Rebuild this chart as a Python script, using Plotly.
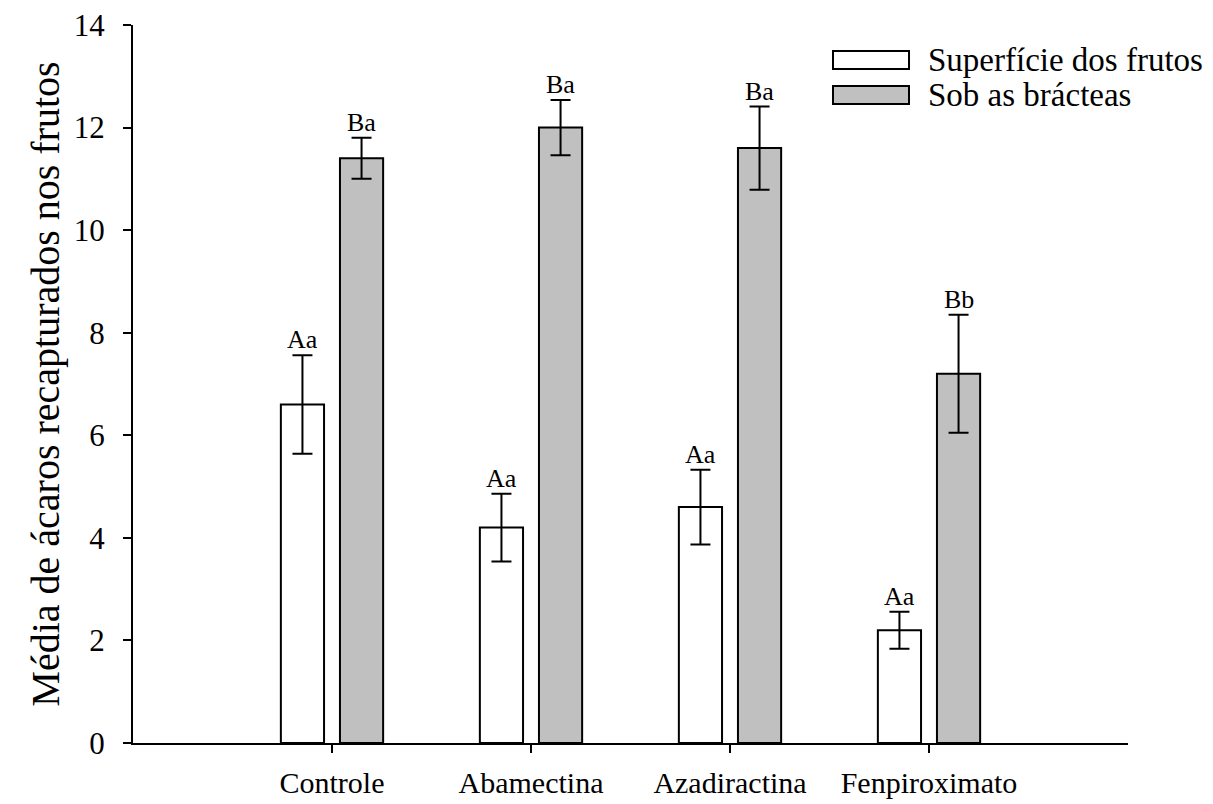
import plotly.graph_objects as go

categories = ["Controle", "Abamectina", "Azadiractina", "Fenpiroximato"]
superficie = [6.6, 4.2, 4.6, 2.2]
superficie_err = [0.96, 0.66, 0.73, 0.36]
bracteas = [11.4, 12.0, 11.6, 7.2]
bracteas_err = [0.40, 0.54, 0.81, 1.15]
letters_sup = ["Aa", "Aa", "Aa", "Aa"]
letters_bra = ["Ba", "Ba", "Ba", "Bb"]
series_names = ["Superfície dos frutos", "Sob as brácteas"]
y_ticks = [0, 2, 4, 6, 8, 10, 12, 14]

FONT = "Times New Roman, Liberation Serif, serif"
BAR_W = 0.217
GAP = 0.04
xpos = list(range(1, len(categories) + 1))

fig = go.Figure()
fig.add_trace(go.Bar(
    x=xpos, y=superficie, width=BAR_W, offset=-(BAR_W + GAP),
    marker=dict(color="white", line=dict(color="black", width=2)),
    error_y=dict(type="data", array=superficie_err, color="black", thickness=2, width=10),
    name=series_names[0], showlegend=False,
))
fig.add_trace(go.Bar(
    x=xpos, y=bracteas, width=BAR_W, offset=GAP,
    marker=dict(color="#c0c0c0", line=dict(color="black", width=2)),
    error_y=dict(type="data", array=bracteas_err, color="black", thickness=2, width=10),
    name=series_names[1], showlegend=False,
))

c_sup = -(BAR_W / 2 + GAP)
c_bra = GAP + BAR_W / 2
for i, x in enumerate(xpos):
    fig.add_annotation(x=x + c_sup, y=superficie[i] + superficie_err[i], text=letters_sup[i],
                       showarrow=False, yanchor="bottom", xanchor="center", yshift=-1,
                       font=dict(family=FONT, size=26, color="black"))
    fig.add_annotation(x=x + c_bra, y=bracteas[i] + bracteas_err[i], text=letters_bra[i],
                       showarrow=False, yanchor="bottom", xanchor="center", yshift=-1,
                       font=dict(family=FONT, size=26, color="black"))

# manual legend (layout decoration)
legend_fills = ["white", "#c0c0c0"]
for k, (name, fill) in enumerate(zip(series_names, legend_fills)):
    y0 = 1 - (51 + 35 * k - 25) / 718
    y1 = 1 - (69 + 35 * k - 25) / 718
    fig.add_shape(type="rect", xref="paper", yref="paper",
                  x0=(833 - 133) / 995, x1=(909 - 133) / 995, y0=y1, y1=y0,
                  fillcolor=fill, line=dict(color="black", width=2))
    fig.add_annotation(xref="paper", yref="paper", x=(926 - 133) / 995, y=(y0 + y1) / 2,
                       text=name, showarrow=False, xanchor="left", yanchor="middle",
                       font=dict(family=FONT, size=33, color="black"))

fig.update_layout(
    width=1213, height=804,
    margin=dict(l=133, r=85, t=25, b=61),
    plot_bgcolor="white", paper_bgcolor="white",
    barmode="overlay",
    font=dict(family=FONT, color="black"),
    xaxis=dict(range=[0, 5], tickvals=xpos, ticktext=categories, automargin=False,
               showline=True, linecolor="black", linewidth=2,
               ticks="outside", ticklen=8, tickwidth=2, tickcolor="black",
               showgrid=False, zeroline=False, ticklabelstandoff=4,
               tickfont=dict(family=FONT, size=30, color="black")),
    yaxis=dict(range=[0, 14], tickvals=y_ticks, automargin=False,
               showline=True, linecolor="black", linewidth=2,
               ticks="outside", ticklen=8, tickwidth=2, tickcolor="black",
               showgrid=False, zeroline=False, ticklabelstandoff=12,
               tickfont=dict(family=FONT, size=31, color="black"),
               title=dict(text="Média de ácaros recapturados nos frutos",
                          font=dict(family=FONT, size=40, color="black"), standoff=2)),
)

fig.write_html("out.html")
